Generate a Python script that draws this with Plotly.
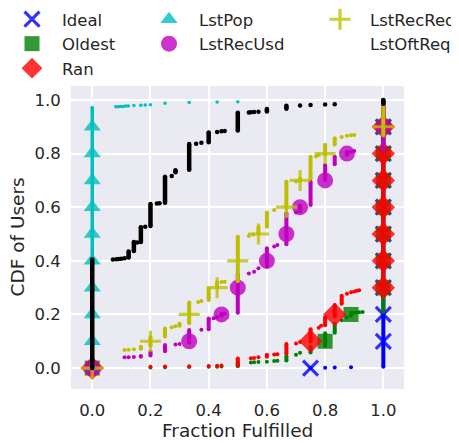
import plotly.graph_objects as go

# ---------------- data ----------------
DECILES = [0.0, 0.1, 0.2, 0.3, 0.4, 0.5, 0.6, 0.7, 0.8, 0.9]
X_TICKS = [0.0, 0.2, 0.4, 0.6, 0.8, 1.0]
X_TICK_LABELS = ["0.0", "0.2", "0.4", "0.6", "0.8", "1.0"]
Y_TICKS = [0.0, 0.2, 0.4, 0.6, 0.8, 1.0]
Y_TICK_LABELS = ["0.0", "0.2", "0.4", "0.6", "0.8", "1.0"]

# each series: fraction value, CDF at first and last user having that value
IDEAL_X = [0.75, 0.8, 0.833, 0.889, 1.0]
IDEAL_LO = [0.0, 0.001, 0.002, 0.003, 0.005]
IDEAL_HI = [0.0, 0.001, 0.002, 0.003, 1.0]
IDEAL_DEC_X = [0.75, 1.0, 1.0, 1.0, 1.0, 1.0, 1.0, 1.0, 1.0, 1.0]

OLDEST_X = [0.0, 0.2, 0.25, 0.333, 0.4, 0.429, 0.444, 0.5, 0.545, 0.556, 0.571, 0.6,
            0.625, 0.636, 0.667, 0.7, 0.714, 0.75, 0.8, 0.833, 0.857, 0.875, 0.889,
            0.9, 0.909, 0.917, 0.929, 1.0]
OLDEST_LO = [0.0, 0.002, 0.003, 0.004, 0.005, 0.005, 0.006, 0.007, 0.021, 0.022, 0.023, 0.024,
             0.026, 0.027, 0.028, 0.05, 0.057, 0.058, 0.082, 0.132, 0.178, 0.19, 0.195,
             0.206, 0.207, 0.208, 0.209, 0.21]
OLDEST_HI = [0.0, 0.002, 0.003, 0.004, 0.005, 0.005, 0.006, 0.02, 0.021, 0.022, 0.023, 0.024,
             0.026, 0.027, 0.045, 0.05, 0.057, 0.08, 0.13, 0.165, 0.178, 0.19, 0.205,
             0.206, 0.207, 0.208, 0.209, 1.0]
OLDEST_DEC_X = [0.0, 0.8, 0.889, 1.0, 1.0, 1.0, 1.0, 1.0, 1.0, 1.0]

RAN_X = [0.0, 0.2, 0.25, 0.333, 0.4, 0.429, 0.444, 0.5, 0.545, 0.556, 0.571, 0.6,
         0.625, 0.636, 0.667, 0.7, 0.714, 0.75, 0.778, 0.786, 0.8, 0.833, 0.857,
         0.875, 0.889, 0.9, 0.909, 0.917, 1.0]
RAN_LO = [0.0, 0.005, 0.006, 0.007, 0.008, 0.009, 0.01, 0.011, 0.037, 0.038, 0.04, 0.042,
          0.051, 0.052, 0.054, 0.092, 0.097, 0.099, 0.15, 0.158, 0.16, 0.192, 0.24,
          0.277, 0.283, 0.286, 0.288, 0.29, 0.292]
RAN_HI = [0.0, 0.005, 0.006, 0.007, 0.008, 0.009, 0.01, 0.036, 0.037, 0.038, 0.04, 0.05,
          0.051, 0.052, 0.09, 0.092, 0.097, 0.145, 0.15, 0.158, 0.19, 0.235, 0.27,
          0.277, 0.283, 0.286, 0.288, 0.29, 1.0]
RAN_DEC_X = [0.0, 0.75, 0.833, 1.0, 1.0, 1.0, 1.0, 1.0, 1.0, 1.0]

LSTPOP_X = [0.0, 0.081, 0.089, 0.097, 0.106, 0.115, 0.124, 0.143, 0.167, 0.182, 0.2,
            0.25, 0.333, 0.429, 0.5, 1.0]
LSTPOP_LO = [0.0, 0.975, 0.975, 0.976, 0.976, 0.977, 0.977, 0.979, 0.98, 0.981, 0.982,
             0.988, 0.99, 0.992, 0.993, 0.995]
LSTPOP_HI = [0.972, 0.975, 0.975, 0.976, 0.976, 0.977, 0.977, 0.979, 0.98, 0.981, 0.982,
             0.988, 0.99, 0.992, 0.993, 1.0]
LSTPOP_DEC_X = [0.0, 0.0, 0.0, 0.0, 0.0, 0.0, 0.0, 0.0, 0.0, 0.0]

LSTRECUSD_X = [0.0, 0.111, 0.125, 0.143, 0.167, 0.2, 0.25, 0.286, 0.3, 0.333, 0.375, 0.4,
               0.417, 0.429, 0.444, 0.455, 0.5, 0.538, 0.556, 0.571, 0.6, 0.625, 0.636,
               0.667, 0.7, 0.714, 0.75, 0.8, 0.833, 0.875, 0.889, 0.9, 1.0]
LSTRECUSD_LO = [0.0, 0.04, 0.04, 0.041, 0.042, 0.047, 0.063, 0.088, 0.09, 0.095, 0.143, 0.145,
                0.186, 0.19, 0.195, 0.204, 0.206, 0.353, 0.359, 0.372, 0.378, 0.453, 0.459,
                0.462, 0.58, 0.585, 0.608, 0.701, 0.76, 0.795, 0.807, 0.81, 0.812]
LSTRECUSD_HI = [0.038, 0.04, 0.04, 0.041, 0.045, 0.061, 0.086, 0.088, 0.09, 0.142, 0.143, 0.185,
                0.186, 0.19, 0.202, 0.204, 0.35, 0.353, 0.359, 0.372, 0.447, 0.453, 0.459,
                0.577, 0.58, 0.605, 0.695, 0.757, 0.788, 0.805, 0.807, 0.81, 1.0]
LSTRECUSD_DEC_X = [0.0, 0.333, 0.444, 0.5, 0.6, 0.667, 0.714, 0.8, 0.875, 1.0]

LSTRECREQ_X = [0.0, 0.111, 0.125, 0.143, 0.167, 0.2, 0.25, 0.273, 0.286, 0.3, 0.333, 0.364,
               0.375, 0.4, 0.429, 0.444, 0.455, 0.5, 0.538, 0.553, 0.571, 0.6, 0.625, 0.667,
               0.7, 0.714, 0.75, 0.769, 0.778, 0.8, 0.833, 0.857, 0.875, 0.889, 0.9, 1.0]
LSTRECREQ_LO = [0.0, 0.067, 0.068, 0.07, 0.072, 0.085, 0.118, 0.152, 0.156, 0.158, 0.168, 0.246,
                0.25, 0.254, 0.3, 0.321, 0.322, 0.324, 0.493, 0.498, 0.502, 0.527, 0.59, 0.595,
                0.696, 0.699, 0.708, 0.789, 0.795, 0.797, 0.834, 0.862, 0.866, 0.868, 0.869, 0.87]
LSTRECREQ_HI = [0.065, 0.067, 0.068, 0.07, 0.08, 0.115, 0.148, 0.152, 0.156, 0.165, 0.245, 0.246,
                0.25, 0.297, 0.32, 0.321, 0.322, 0.49, 0.493, 0.498, 0.525, 0.58, 0.59, 0.695,
                0.696, 0.706, 0.788, 0.789, 0.795, 0.832, 0.857, 0.862, 0.866, 0.868, 0.869, 1.0]
LSTRECREQ_DEC_X = [0.0, 0.2, 0.333, 0.429, 0.5, 0.571, 0.667, 0.714, 0.8, 1.0]

LSTOFTREQ_X = [0.0, 0.071, 0.083, 0.091, 0.1, 0.111, 0.125, 0.143, 0.154, 0.167, 0.182, 0.2,
               0.222, 0.231, 0.25, 0.273, 0.286, 0.333, 0.357, 0.375, 0.4, 0.429, 0.444,
               0.455, 0.5, 0.538, 0.545, 0.556, 0.571, 0.6, 0.667, 0.714, 0.75, 0.8, 0.833, 1.0]
LSTOFTREQ_LO = [0.0, 0.405, 0.406, 0.407, 0.408, 0.41, 0.412, 0.437, 0.468, 0.47, 0.527, 0.53,
                0.614, 0.615, 0.617, 0.716, 0.73, 0.74, 0.837, 0.84, 0.842, 0.88, 0.883,
                0.884, 0.886, 0.953, 0.954, 0.955, 0.956, 0.957, 0.967, 0.979, 0.981, 0.983, 0.984, 0.986]
LSTOFTREQ_HI = [0.405, 0.405, 0.406, 0.407, 0.408, 0.41, 0.435, 0.47, 0.468, 0.525, 0.527, 0.612,
                0.614, 0.615, 0.714, 0.716, 0.738, 0.836, 0.837, 0.84, 0.879, 0.88, 0.883,
                0.884, 0.952, 0.953, 0.954, 0.955, 0.956, 0.966, 0.978, 0.979, 0.981, 0.983, 0.984, 1.0]
LSTOFTREQ_DEC_X = []

SERIES_NAMES = ["Ideal", "Oldest", "Ran", "LstPop", "LstRecUsd", "LstRecReq", "LstOftReq"]
X_TITLE = "Fraction Fulfilled"
Y_TITLE = "CDF of Users"

# ---------------- styling ----------------
STYLE = {
    "Ideal": dict(color="#0000ff", mcolor="rgba(0,0,255,0.8)", symbol="x-thin", size=15, lw=3.2,
                  legend="legend", dot=4),
    "Oldest": dict(color="#008000", mcolor="rgba(0,128,0,0.8)", symbol="square", size=15, lw=0,
                   legend="legend", dot=4),
    "Ran": dict(color="#ff0000", mcolor="rgba(255,0,0,0.8)", symbol="diamond", size=18, lw=0,
                legend="legend", dot=4),
    "LstPop": dict(color="#00bfbf", mcolor="rgba(0,191,191,0.8)", symbol="triangle-up", size=15, lw=0,
                   legend="legend2", dot=3.5),
    "LstRecUsd": dict(color="#bf00bf", mcolor="rgba(191,0,191,0.8)", symbol="circle", size=16, lw=0,
                      legend="legend2", dot=4),
    "LstRecReq": dict(color="#bfbf00", mcolor="rgba(191,191,0,0.8)", symbol="cross-thin", size=15, lw=3.2,
                      legend="legend3", dot=4),
    "LstOftReq": dict(color="#000000", mcolor="rgba(0,0,0,0)", symbol="circle", size=10, lw=0,
                      legend="legend3", dot=4.5),
}

DATA = {
    "Ideal": (IDEAL_X, IDEAL_LO, IDEAL_HI, IDEAL_DEC_X),
    "Oldest": (OLDEST_X, OLDEST_LO, OLDEST_HI, OLDEST_DEC_X),
    "Ran": (RAN_X, RAN_LO, RAN_HI, RAN_DEC_X),
    "LstPop": (LSTPOP_X, LSTPOP_LO, LSTPOP_HI, LSTPOP_DEC_X),
    "LstRecUsd": (LSTRECUSD_X, LSTRECUSD_LO, LSTRECUSD_HI, LSTRECUSD_DEC_X),
    "LstRecReq": (LSTRECREQ_X, LSTRECREQ_LO, LSTRECREQ_HI, LSTRECREQ_DEC_X),
    "LstOftReq": (LSTOFTREQ_X, LSTOFTREQ_LO, LSTOFTREQ_HI, LSTOFTREQ_DEC_X),
}


def step_path(xs, lo, hi):
    px, py = [], []
    for x, a, b in zip(xs, lo, hi):
        if a == b:
            px += [x, None]
            py += [a, None]
        else:
            px += [x, x, None]
            py += [a, b, None]
    return px, py


fig = go.Figure()
for name in SERIES_NAMES:
    xs, lo, hi, dec_x = DATA[name]
    st = STYLE[name]
    px, py = step_path(xs, lo, hi)
    fig.add_trace(go.Scatter(
        x=px, y=py, mode="lines+markers", showlegend=False, hoverinfo="skip",
        line=dict(color=st["color"], width=st["dot"]),
        marker=dict(color=st["color"], size=st["dot"], line=dict(width=0)),
    ))
    dy = DECILES[:len(dec_x)]
    if st["lw"] > 0:
        mk = dict(symbol=st["symbol"], size=st["size"], color=st["mcolor"],
                  line=dict(color=st["mcolor"], width=st["lw"]))
    else:
        mk = dict(symbol=st["symbol"], size=st["size"], color=st["mcolor"], line=dict(width=0))
    fig.add_trace(go.Scatter(
        x=dec_x if dec_x else [-5], y=dy if dec_x else [-5], mode="markers",
        name=name, legend=st["legend"], legendgroup=name, marker=mk,
    ))

FONT = "DejaVu Sans"
TXT = "#262626"
W, H = 451, 435   # page body has an 8px margin
ML, MR, MT, MB = 63, 55, 78, 54
PLOT_W = W - ML - MR
PLOT_H = H - MT - MB
LEG_Y = 1 + 84 / PLOT_H
legend_common = dict(
    yref="paper", xanchor="left", yanchor="top",
    bgcolor="rgba(0,0,0,0)", font=dict(family=FONT, size=16.5, color=TXT),
    itemwidth=50, tracegroupgap=0, orientation="v",
)

fig.update_layout(
    width=W, height=H,
    margin=dict(l=ML, r=MR, t=MT, b=MB, autoexpand=False),
    paper_bgcolor="white", plot_bgcolor="#EAEAF2",
    font=dict(family=FONT, size=16.5, color=TXT),
    xaxis=dict(range=[-0.073, 1.071], tickvals=X_TICKS, ticktext=X_TICK_LABELS,
               showgrid=True, gridcolor="white", gridwidth=1.5, zeroline=False,
               showline=False, ticks="outside", ticklen=6, tickcolor="rgba(0,0,0,0)",
               tickfont=dict(family=FONT, size=16.5, color=TXT), automargin=False),
    yaxis=dict(range=[-0.078, 1.052], tickvals=Y_TICKS, ticktext=Y_TICK_LABELS,
               showgrid=True, gridcolor="white", gridwidth=1.5, zeroline=False,
               showline=False, ticks="outside", ticklen=6, tickcolor="rgba(0,0,0,0)",
               tickfont=dict(family=FONT, size=16.5, color=TXT), automargin=False),
    legend=dict(xref="paper", x=(-6 - ML) / PLOT_W, y=LEG_Y, **legend_common),
    legend2=dict(xref="container", x=131 / W, y=LEG_Y, **legend_common),
    legend3=dict(xref="container", x=302 / W, y=LEG_Y, **legend_common),
    annotations=[
        dict(text=X_TITLE, xref="paper", yref="paper", x=0.5, y=0, xanchor="center",
             yanchor="middle", yshift=-41, showarrow=False,
             font=dict(family=FONT, size=18.5, color=TXT)),
        dict(text=Y_TITLE, xref="paper", yref="paper", x=0, y=0.5, xanchor="center",
             yanchor="middle", xshift=-54, textangle=-90, showarrow=False,
             font=dict(family=FONT, size=18.5, color=TXT)),
    ],
)

fig.write_html("out.html")
